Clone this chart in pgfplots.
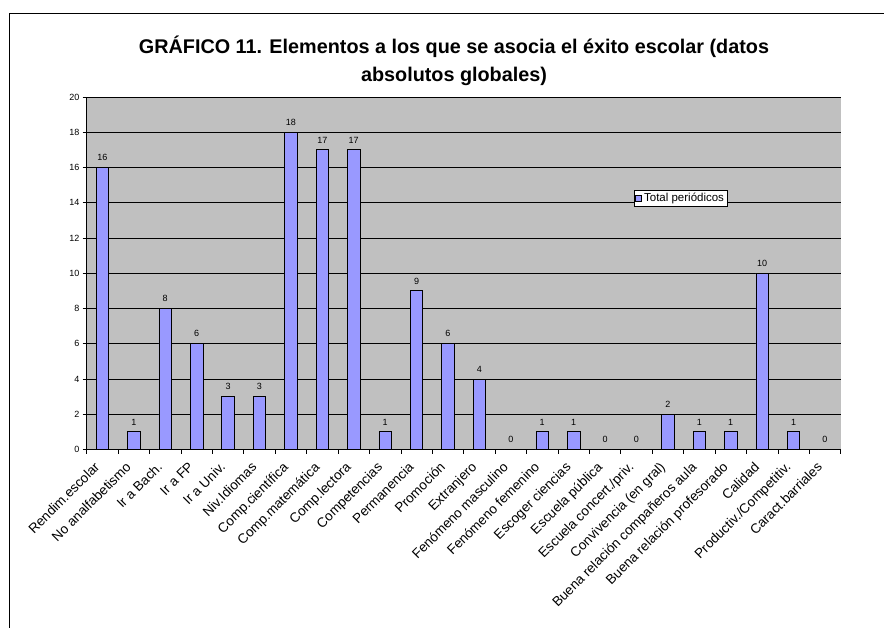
\documentclass[border=0pt]{standalone}
\usepackage{pgfplots}
\pgfplotsset{compat=1.18}
\usepackage{fontspec}
\setmainfont{Liberation Sans}
\definecolor{barblue}{HTML}{9999FF}
\definecolor{plotgray}{HTML}{C0C0C0}

\begin{document}
\begin{tikzpicture}
  \useasboundingbox (0pt,0pt) rectangle (884pt,-628pt);
  \draw[line width=1pt] (9pt,-628pt) -- (9pt,-14pt) -- (884pt,-14pt);
  \node[font=\bfseries\fontsize{19.8}{28}\selectfont, align=center]
    at (454pt,-61pt) {GRÁFICO 11. Elementos a los que se asocia el éxito escolar (datos\\absolutos globales)};
  \begin{axis}[
    at={(86.7pt,-449.5pt)}, anchor=south west,
    scale only axis, width=754pt, height=352.5pt,
    axis background/.style={fill=plotgray},
    ymin=0, ymax=20, ytick={0,2,...,20},
    xmin=-0.5, xmax=23.5,
    xtick={0,...,23},
    major x tick style={draw=none},
    minor xtick={-0.5,0.5,...,23.5},
    tick align=outside,
    major tick length=4pt, minor tick length=4pt,
    ymajorgrids, grid style={black, line width=0.8pt},
    axis line style={black, line width=0.8pt},
    tick style={black, line width=0.6pt},
    axis x line*=bottom, axis y line*=left,
    /pgf/number format/assume math mode=true,
    yticklabel style={font=\fontsize{9}{10}\selectfont, inner sep=1pt, xshift=-2pt},
    xticklabel style={font=\fontsize{13.5}{15}\selectfont, xshift=-9pt, yshift=-6pt,
      rotate=45, anchor=north east, inner sep=1pt},
    xticklabels={Rendim.escolar, No analfabetismo, Ir a Bach., Ir a FP, Ir a Univ., Niv.Idiomas, Comp.científica, Comp.matemática, Comp.lectora, Competencias, Permanencia, Promoción, Extranjero, Fenómeno masculino, Fenómeno femenino, Escoger ciencias, Escuela pública, Escuela concert./priv., Convivencia (en gral), Buena relación compañeros aula, Buena relación profesorado, Calidad, Productiv./Competitiv., Caract.barriales},
    ybar, bar width=12.5pt,
    nodes near coords,
    every node near coord/.append style={font=\fontsize{9}{10}\selectfont, yshift=3pt},
    legend style={at={(0.726,0.736)}, anchor=north west, draw=black, fill=white,
      font=\fontsize{11.5}{12}\selectfont, inner sep=1pt, row sep=0pt},
    legend image code/.code={\draw[fill=barblue, draw=black] (0pt,-3pt) rectangle (6pt,3pt);},
  ]
    \addplot[fill=barblue, draw=black, line width=0.8pt] coordinates {
      (0,16) (1,1) (2,8) (3,6) (4,3) (5,3) (6,18) (7,17) (8,17) (9,1)
      (10,9) (11,6) (12,4) (13,0) (14,1) (15,1) (16,0) (17,0) (18,2)
      (19,1) (20,1) (21,10) (22,1) (23,0)};
    \addlegendentry{Total periódicos}
  \end{axis}
\end{tikzpicture}
\end{document}
